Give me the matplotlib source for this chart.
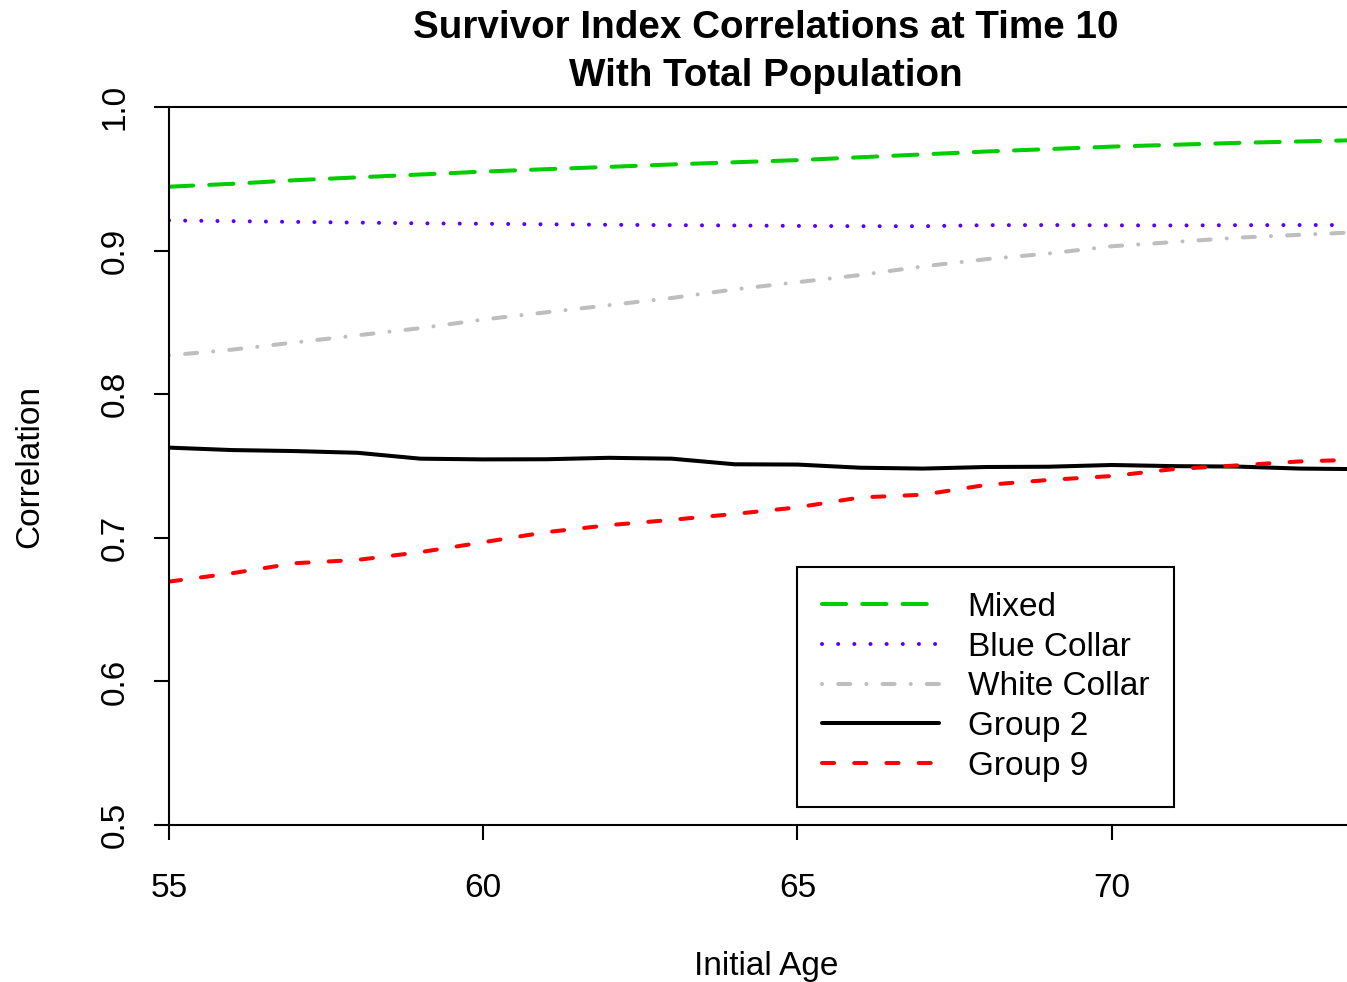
import numpy as np
import matplotlib
matplotlib.use("Agg")
import matplotlib.pyplot as plt

plt.rcParams["font.family"] = ["Liberation Sans", "DejaVu Sans"]

ages = np.arange(55, 75)

mixed = [0.9445, 0.9465, 0.949, 0.951, 0.953, 0.955, 0.9567, 0.9583, 0.960, 0.9615,
         0.963, 0.965, 0.967, 0.969, 0.9707, 0.9724, 0.9737, 0.975, 0.976, 0.977]
blue_collar = [0.921, 0.9205, 0.920, 0.9195, 0.919, 0.9187, 0.9183, 0.918, 0.9177, 0.9175,
               0.9172, 0.917, 0.917, 0.9177, 0.9178, 0.9176, 0.9175, 0.9177, 0.9178, 0.9178]
white_collar = [0.827, 0.831, 0.836, 0.841, 0.846, 0.852, 0.857, 0.862, 0.867, 0.873,
                0.878, 0.883, 0.889, 0.894, 0.898, 0.903, 0.906, 0.909, 0.911, 0.913]
group2 = [0.7628, 0.7611, 0.7604, 0.7592, 0.7551, 0.7546, 0.7547, 0.7557, 0.7551, 0.7512,
          0.7510, 0.7488, 0.7482, 0.7493, 0.7495, 0.7507, 0.7499, 0.7496, 0.7482, 0.7478]
group9 = [0.6695, 0.6753, 0.6823, 0.6846, 0.6900, 0.6969, 0.7039, 0.7088, 0.7125, 0.7166,
          0.7212, 0.7281, 0.7300, 0.7368, 0.7403, 0.7430, 0.7479, 0.7504, 0.7532, 0.7545]

labels = ["Mixed", "Blue Collar", "White Collar", "Group 2", "Group 9"]
x_ticks = [55, 60, 65, 70]
y_ticks = [0.5, 0.6, 0.7, 0.8, 0.9, 1.0]

W, H = 1347, 982
fig = plt.figure(figsize=(W / 100, H / 100), dpi=100)
ax = fig.add_axes([169 / W, (H - 825) / H, (1363 - 169) / W, 718 / H])

lw = 2.9
series = [
    (mixed, "#00CD00", (0, (6, 4))),
    (blue_collar, "#5A00FF", (0, (0.01, 4))),
    (white_collar, "#BEBEBE", (0, (0.01, 4, 3, 4))),
    (group2, "black", "-"),
    (group9, "#FF0000", (0, (3, 5))),
]
for (vals, col, ls), lab in zip(series, labels):
    ax.plot(ages, vals, color=col, linestyle=ls, linewidth=lw, label=lab,
            dash_capstyle="round", solid_capstyle="round")

ax.set_xlim(55, 74)
ax.set_ylim(0.5, 1.0)
ax.set_xticks(x_ticks)
ax.set_yticks(y_ticks)
ax.set_yticklabels([f"{t:.1f}" for t in y_ticks])
for s in ax.spines.values():
    s.set_linewidth(1.5)
ax.tick_params(axis="both", length=10.8, width=1.5, labelsize=24)
ax.tick_params(axis="x", pad=23.5)
ax.tick_params(axis="y", pad=17, labelrotation=90)
for lbl in ax.get_yticklabels():
    lbl.set_verticalalignment("center")

fig.text(30 / W, 1 - 466 / H, "Correlation", rotation=90, fontsize=24,
         ha="center", va="center")
fig.text(766 / W, 1 - 966 / H, "Initial Age", fontsize=24, ha="center", va="center")
fig.text(766 / W, 1 - 52 / H, "Survivor Index Correlations at Time 10\nWith Total Population",
         fontsize=27.8, fontweight="bold", ha="center", va="center", linespacing=1.42)

leg = ax.legend(loc="upper left", bbox_to_anchor=((797 - 169) / 1194, (825 - 567) / 718),
                borderaxespad=0, fontsize=24, handlelength=3.5, handletextpad=0.87,
                borderpad=0.75, labelspacing=0.26, fancybox=False, framealpha=1,
                edgecolor="black")
leg.get_frame().set_linewidth(1.5)

fig.savefig("out.png", dpi=100)
